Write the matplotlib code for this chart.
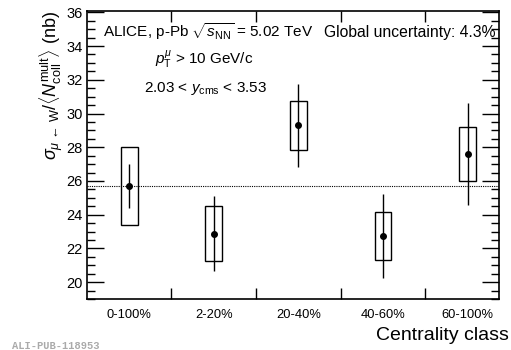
import matplotlib
matplotlib.use("Agg")
import matplotlib.pyplot as plt
from matplotlib.patches import Rectangle
from matplotlib.ticker import MultipleLocator, FixedLocator

plt.rcParams['font.family'] = ['Liberation Sans', 'DejaVu Sans']
plt.rcParams['mathtext.fontset'] = 'custom'
plt.rcParams['mathtext.rm'] = 'Liberation Sans'
plt.rcParams['mathtext.it'] = 'Liberation Sans:italic'
plt.rcParams['mathtext.bf'] = 'Liberation Sans:bold'

# Centrality classes and measured W-boson cross sections scaled by <Ncoll>
categories = ['0-100%', '2-20%', '20-40%', '40-60%', '60-100%']
values = [25.7, 22.88, 29.3, 22.74, 27.6]
stat_err = [1.3, 2.24, 2.47, 2.5, 3.0]
sys_err = [2.32, 1.64, 1.45, 1.4, 1.6]
reference_level = 25.7

fig = plt.figure(figsize=(5.11, 3.5), dpi=100)
ax = fig.add_axes([0.1697, 0.1457, 0.8068, 0.8229])

x = list(range(len(categories)))
box_half = 0.1
for xi, v, s in zip(x, values, sys_err):
    ax.add_patch(Rectangle((xi - box_half, v - s), 2 * box_half, 2 * s,
                           fill=False, edgecolor='black', linewidth=1.0, zorder=2))
ax.errorbar(x, values, yerr=stat_err, fmt='o', color='black', markersize=4,
            elinewidth=1.0, capsize=0, zorder=3)

ax.axhline(reference_level, color='black', linestyle=(0, (1, 1)), linewidth=0.8, zorder=1)

ax.set_xlim(-0.5, 4.37)
ax.set_ylim(19, 36.08)

ax.set_xticks(x)
ax.set_xticklabels(categories, fontsize=9.3)
ax.xaxis.set_minor_locator(FixedLocator([0.5, 1.5, 2.5, 3.5]))
ax.tick_params(axis='x', which='major', length=0, pad=7)
ax.tick_params(axis='x', which='minor', direction='in', length=8, width=1.0,
               top=True, bottom=True)

ax.yaxis.set_major_locator(MultipleLocator(2))
ax.yaxis.set_minor_locator(MultipleLocator(0.5))
ax.tick_params(axis='y', which='major', direction='in', length=12, width=1.0,
               left=True, right=True, labelsize=10.5, pad=3)
ax.tick_params(axis='y', which='minor', direction='in', length=6, width=1.0,
               left=True, right=True)

for sp in ax.spines.values():
    sp.set_linewidth(1.2)

ax.set_ylabel(r'$\sigma_{\mu\,\leftarrow\,\mathrm{W}}/\langle N^{\mathrm{mult}}_{\mathrm{coll}}\rangle$ (nb)',
              fontsize=13, loc='top', labelpad=1)

fig.text(509 / 511, 1 - 340 / 350, 'Centrality class', fontsize=14,
         ha='right', va='baseline')

ax.text(0.04, 0.910, r'ALICE, p-Pb $\sqrt{s_{\mathrm{NN}}}$ = 5.02 TeV',
        transform=ax.transAxes, fontsize=11, va='baseline', ha='left')
ax.text(0.576, 0.910, 'Global uncertainty: 4.3%',
        transform=ax.transAxes, fontsize=11.3, va='baseline', ha='left')
ax.text(0.285, 0.819, r'$p^{\mu}_{\mathrm{T}}$ > 10 GeV/c',
        transform=ax.transAxes, fontsize=11, va='baseline', ha='center')
ax.text(0.288, 0.719, r'2.03 < $y_{\mathrm{cms}}$ < 3.53',
        transform=ax.transAxes, fontsize=11, va='baseline', ha='center')

fig.text(0.024, 1 - 346 / 350, 'ALI-PUB-118953', fontsize=7.5, color='#aaaaaa',
         family='Liberation Mono', fontweight='bold', va='center', ha='left')

fig.savefig('out.png', dpi=100)
